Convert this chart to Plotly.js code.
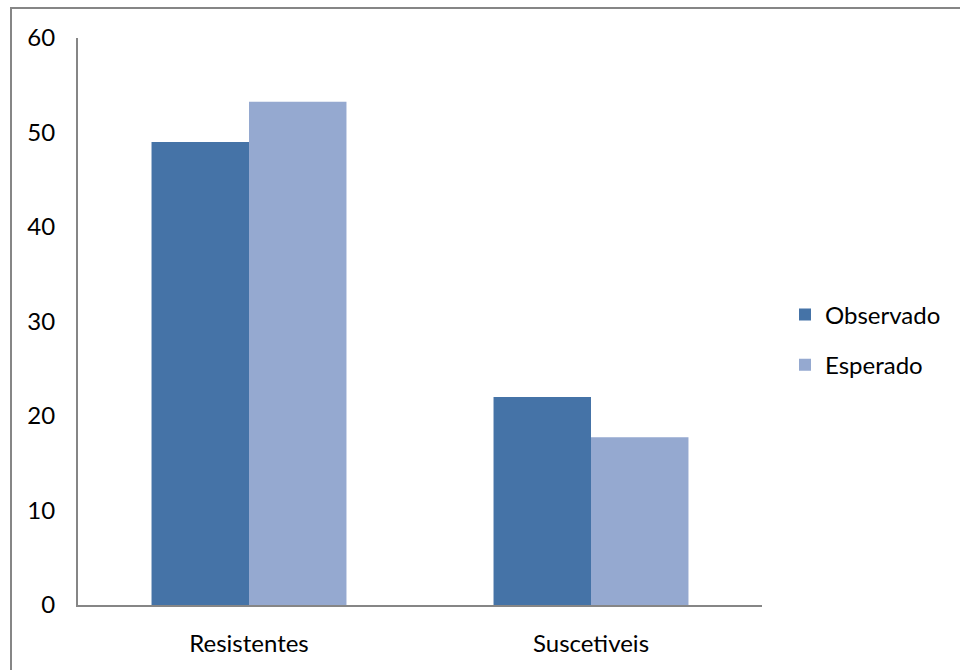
<!DOCTYPE html>
<html>
<head>
<meta charset="utf-8">
<script src="https://cdn.plot.ly/plotly-3.0.1.min.js"></script>
<style>html,body{margin:0;padding:0;background:#fff;}#chart{width:960px;height:670px;}</style>
</head>
<body>
<div id="chart"></div>
<script>
const categories = ["Resistentes", "Suscetiveis"];
const observado = [49, 22];
const esperado = [53.25, 17.75];
const seriesNames = ["Observado", "Esperado"];
const yTicks = [0, 10, 20, 30, 40, 50, 60];

const W = 684, H = 567, L = 78, T = 38;
const px = x => (x - L) / W;
const py = y => (T + H - y) / H;

const traces = [
  {type: 'bar', name: seriesNames[0], x: categories, y: observado, legendgroup: 'a',
   marker: {color: '#4573A7'}, hoverinfo: 'y'},
  {type: 'bar', name: seriesNames[1], x: categories, y: esperado, legendgroup: 'b',
   marker: {color: '#95A9D0'}, hoverinfo: 'y'}
];

const layout = {
  width: 960, height: 670,
  margin: {l: L, r: 960 - L - W, t: T, b: 670 - T - H},
  paper_bgcolor: '#fff', plot_bgcolor: '#fff',
  font: {family: 'Lato, "Open Sans", sans-serif', size: 24, color: '#000'},
  barmode: 'group', bargap: 0.43, bargroupgap: 0,
  showlegend: true,
  legend: {x: px(785), y: py(340), xanchor: 'left', yanchor: 'middle',
           traceorder: 'grouped', tracegroupgap: 16, font: {size: 24},
           itemwidth: 30},
  xaxis: {showline: true, linecolor: '#868686', linewidth: 2, ticks: '',
          showgrid: false, zeroline: false, ticklabelstandoff: 16},
  yaxis: {range: [0, 60], tickvals: yTicks, showline: true, linecolor: '#868686',
          linewidth: 2, ticks: '', showgrid: false, zeroline: false,
          ticklabelstandoff: 16},
  shapes: [
    {type: 'line', xref: 'paper', yref: 'paper', x0: px(11), x1: px(11),
     y0: py(7), y1: py(672), line: {color: '#868686', width: 2}},
    {type: 'line', xref: 'paper', yref: 'paper', x0: px(11), x1: px(962),
     y0: py(8), y1: py(8), line: {color: '#868686', width: 2}}
  ]
};

Plotly.newPlot('chart', traces, layout, {displayModeBar: false, staticPlot: true});
</script>
</body>
</html>
